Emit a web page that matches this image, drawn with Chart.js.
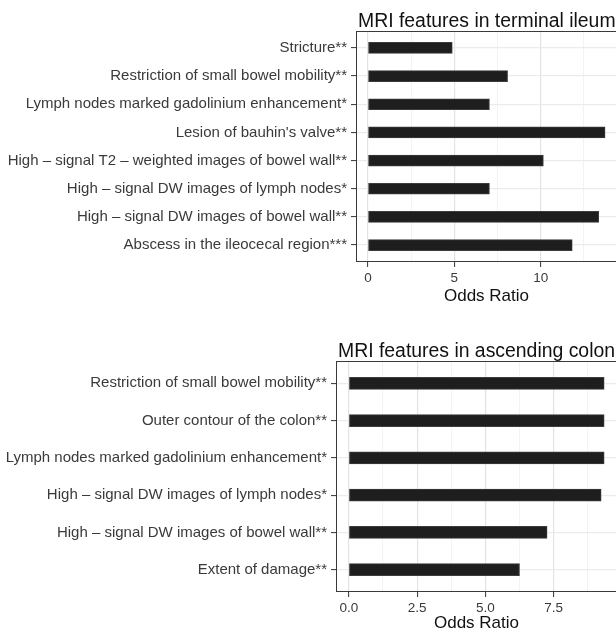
<!DOCTYPE html>
<html><head><meta charset="utf-8">
<script src="https://cdn.jsdelivr.net/npm/chart.js@4.4.0/dist/chart.umd.min.js"></script>
<style>
html,body{margin:0;padding:0;background:#fff;overflow:hidden;width:616px;height:634px;}
.wrap{position:absolute;left:0;width:620px;}
#w1{top:0;height:307px;}
#w2{top:320px;height:314px;}
canvas{display:block;}
</style></head><body>
<div class="wrap" id="w1"><canvas id="c1" width="617" height="307"></canvas></div>
<div class="wrap" id="w2"><canvas id="c2" width="617" height="314"></canvas></div>
<script>
// ---- Panel 1: terminal ileum ----
const ileumTitle = "MRI features in terminal ileum";
const ileumFeatures = [
  "Stricture**",
  "Restriction of small bowel mobility**",
  "Lymph nodes marked gadolinium enhancement*",
  "Lesion of bauhin's valve**",
  "High \u2013 signal T2 \u2013 weighted images of bowel wall**",
  "High \u2013 signal DW images of lymph nodes*",
  "High \u2013 signal DW images of bowel wall**",
  "Abscess in the ileocecal region***"
];
const ileumOdds = [4.88, 8.08, 7.03, 13.72, 10.15, 7.03, 13.35, 11.82];
const ileumMajorTicks = [0, 5, 10];
const ileumTickLabels = ["0", "5", "10"];
const ileumMinorTicks = [2.5, 7.5, 12.5];
const ileumXMin = -0.69, ileumXMax = 14.41;

// ---- Panel 2: ascending colon ----
const colonTitle = "MRI features in ascending colon";
const colonFeatures = [
  "Restriction of small bowel mobility**",
  "Outer contour of the colon**",
  "Lymph nodes marked gadolinium enhancement*",
  "High \u2013 signal DW images of lymph nodes*",
  "High \u2013 signal DW images of bowel wall**",
  "Extent of damage**"
];
const colonOdds = [9.35, 9.35, 9.35, 9.24, 7.26, 6.25];
const colonMajorTicks = [0, 2.5, 5, 7.5];
const colonTickLabels = ["0.0", "2.5", "5.0", "7.5"];
const colonMinorTicks = [1.25, 3.75, 6.25, 8.75];
const colonXMin = -0.47, colonXMax = 9.82;

const xTitle = "Odds Ratio";
const FONT = '"Liberation Sans", Arial, sans-serif';

const panelDecor = {
  id: 'panelDecor',
  afterDraw(chart, args, opts) {
    const {ctx, chartArea: a} = chart;
    ctx.save();
    ctx.strokeStyle = '#3a3a3a';
    ctx.lineWidth = 1;
    const l = Math.round(a.left) + 0.5, t = Math.round(a.top) + 0.5;
    const r = Math.round(a.right) - 0.5, b = Math.round(a.bottom) - 0.5;
    ctx.strokeRect(l, t, r - l, b - t);
    ctx.fillStyle = '#111';
    ctx.font = opts.size + 'px ' + FONT;
    ctx.textBaseline = 'alphabetic';
    ctx.textAlign = 'left';
    ctx.fillText(opts.text, a.left + opts.dx, opts.baseline);
    ctx.restore();
  }
};

function makeChart(id, c) {
  const n = c.labels.length;
  const allTicks = c.major.concat(c.minor).sort((p, q) => p - q);
  return new Chart(document.getElementById(id), {
    type: 'bar',
    data: {
      labels: c.labels,
      datasets: [{
        data: c.values,
        backgroundColor: '#1e1e1e',
        borderColor: '#3c3c3c',
        borderWidth: 1,
        borderSkipped: false,
        barThickness: c.barThickness
      }]
    },
    options: {
      indexAxis: 'y',
      responsive: false,
      animation: false,
      devicePixelRatio: 1,
      layout: {padding: {top: c.padTop, left: 0, right: 0, bottom: 0}},
      plugins: {
        legend: {display: false},
        tooltip: {enabled: false},
        title: {display: false},
        panelDecor: {text: c.title, size: 19.4, dx: 2, baseline: c.titleBaseline}
      },
      scales: {
        x: {
          type: 'linear',
          min: c.xMin,
          max: c.xMax,
          afterBuildTicks: s => { s.ticks = allTicks.map(v => ({value: v})); },
          afterFit: s => { s.height = c.xHeight; },
          ticks: {
            autoSkip: false,
            maxRotation: 0,
            padding: 3,
            color: '#3a3a3a',
            font: {family: FONT, size: 13.5},
            callback: v => { const i = c.major.indexOf(v); return i >= 0 ? c.tickLabels[i] : ''; }
          },
          grid: {
            color: ctx => (ctx.tick && c.major.includes(ctx.tick.value)) ? '#e3e3e3' : '#f3f3f3',
            lineWidth: ctx => (ctx.tick && c.major.includes(ctx.tick.value)) ? 1.2 : 1,
            tickColor: ctx => (ctx.tick && c.major.includes(ctx.tick.value)) ? '#333333' : 'rgba(0,0,0,0)',
            tickWidth: 1,
            tickLength: 5,
            drawTicks: true
          },
          border: {display: false},
          title: {
            display: true,
            text: xTitle,
            color: '#111',
            font: {family: FONT, size: 17},
            padding: {top: 0, bottom: 0}
          }
        },
        y: {
          type: 'category',
          offset: false,
          afterBuildTicks: s => { s._startValue = -0.6; s._valueRange = n - 1 + 1.2; },
          afterFit: s => { s.width = c.yWidth; },
          ticks: {
            autoSkip: false,
            padding: 4,
            color: '#3a3a3a',
            font: {family: FONT, size: 15}
          },
          grid: {
            offset: false,
            color: '#ebebeb',
            lineWidth: 1.2,
            tickColor: '#333333',
            tickWidth: 1,
            tickLength: 5
          },
          border: {display: false}
        }
      }
    },
    plugins: [panelDecor]
  });
}

makeChart('c1', {
  labels: ileumFeatures, values: ileumOdds, title: ileumTitle,
  major: ileumMajorTicks, minor: ileumMinorTicks, tickLabels: ileumTickLabels,
  xMin: ileumXMin, xMax: ileumXMax,
  padTop: 31, xHeight: 45, yWidth: 356, barThickness: 11,
  titleBaseline: 26.5
});
makeChart('c2', {
  labels: colonFeatures, values: colonOdds, title: colonTitle,
  major: colonMajorTicks, minor: colonMinorTicks, tickLabels: colonTickLabels,
  xMin: colonXMin, xMax: colonXMax,
  padTop: 41, xHeight: 42, yWidth: 336, barThickness: 12,
  titleBaseline: 36.5
});
</script>
</body></html>
